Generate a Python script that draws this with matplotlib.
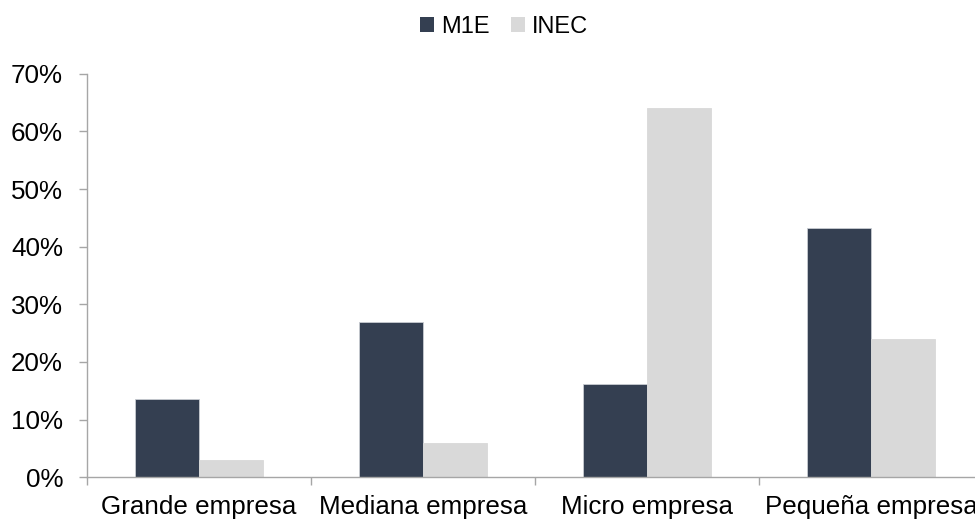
import matplotlib.pyplot as plt
import numpy as np
from matplotlib.patches import Patch

categories = ["Grande empresa", "Mediana empresa", "Micro empresa", "Pequeña empresa"]
m1e = [13.5, 27.0, 16.2, 43.3]
inec = [3.0, 6.0, 64.1, 24.0]
y_ticks = [0, 10, 20, 30, 40, 50, 60, 70]

DARK = "#343f51"
LIGHT = "#d9d9d9"
AXIS = "#a6a6a6"

plt.rcParams["font.family"] = ["Liberation Sans", "DejaVu Sans"]

fig = plt.figure(figsize=(9.75, 5.22), dpi=100)
ax = fig.add_axes([0.0889, 0.0856, 0.9196, 0.7732])

x = np.arange(len(categories))
w = 0.285
ax.bar(x - w / 2, m1e, w, color=DARK, edgecolor="#c8ccd2", linewidth=0.6, label="M1E")
ax.bar(x + w / 2, inec, w, color=LIGHT, edgecolor=LIGHT, linewidth=0.6, label="INEC")

ax.set_xlim(-0.5, len(categories) - 0.5)
ax.set_ylim(0, 70)
ax.set_yticks(y_ticks)
ax.set_yticklabels([f"{v}%" for v in y_ticks])

# category labels centred, ticks at category boundaries
ax.set_xticks(x)
ax.set_xticklabels(categories)
ax.set_xticks(np.arange(len(categories) + 1) - 0.5, minor=True)
ax.tick_params(axis="x", which="major", length=0, pad=13, labelsize=18.7)
ax.tick_params(axis="x", which="minor", length=6, width=1, color=AXIS, direction="out")
ax.tick_params(axis="y", length=6, width=1, color=AXIS, pad=11, labelsize=18.7)

for s in ["top", "right"]:
    ax.spines[s].set_visible(False)
for s in ["left", "bottom"]:
    ax.spines[s].set_color(AXIS)
    ax.spines[s].set_linewidth(1)

handles = [Patch(facecolor=DARK, label="M1E"), Patch(facecolor=LIGHT, label="INEC")]
fig.legend(handles=handles, loc="center", bbox_to_anchor=(0.517, 0.948), ncol=2,
           frameon=False, fontsize=17, handlelength=0.6, handleheight=0.6,
           handletextpad=0.3, columnspacing=0.9)

fig.savefig("out.png", dpi=100)
